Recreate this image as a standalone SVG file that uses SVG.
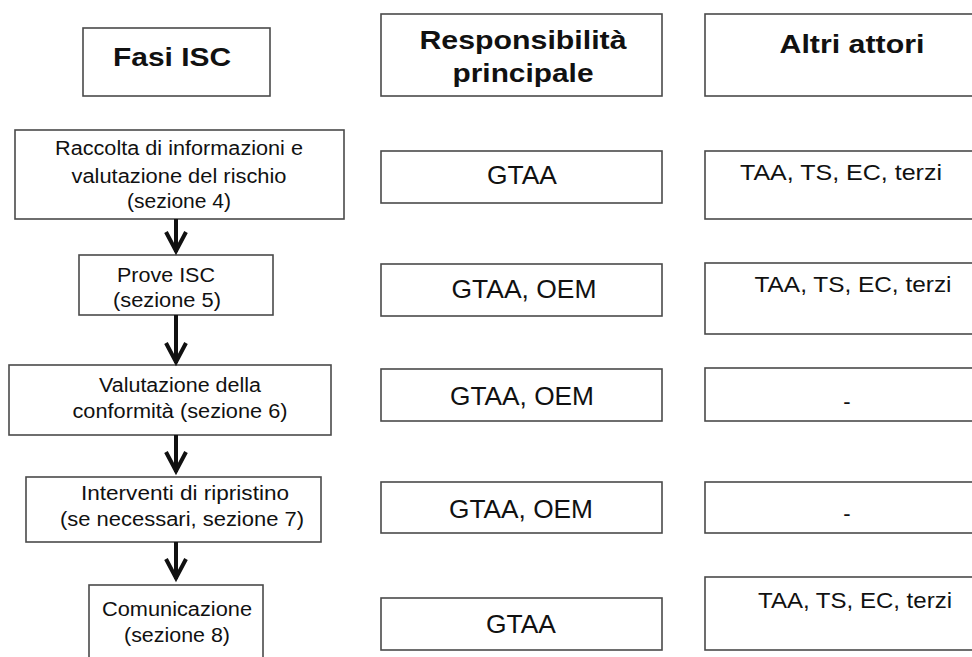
<svg xmlns="http://www.w3.org/2000/svg" width="972" height="657" viewBox="0 0 972 657">
<style>
.box{fill:#fff;stroke:#4a4a4a;stroke-width:1.6}
text{font-family:"Liberation Sans",Arial,sans-serif;fill:#111;text-anchor:middle}
.h{font-weight:bold;font-size:26px}
.l{font-size:19.5px}
.m{font-size:25px}
.r{font-size:22px}
.arrow{stroke:#111;stroke-width:4;fill:none}
</style>
<defs>
<marker id="chev" markerUnits="userSpaceOnUse" viewBox="-24 -13 28 26" refX="0" refY="0" markerWidth="28" markerHeight="26" orient="auto" overflow="visible">
<path d="M-20,-10 L-1,0 L-20,10" fill="none" stroke="#111" stroke-width="4"/>
</marker>
</defs>
<rect width="972" height="657" fill="#fff"/>

<g id="hdr-fasi"><rect class="box" x="83" y="28" width="187" height="68"/><text class="h" x="172" y="66" textLength="118" lengthAdjust="spacingAndGlyphs">Fasi ISC</text></g>
<g id="hdr-resp"><rect class="box" x="381" y="14" width="281" height="82"/><text class="h" x="523" y="49" textLength="207" lengthAdjust="spacingAndGlyphs">Responsibilità</text><text class="h" x="523" y="82" textLength="141" lengthAdjust="spacingAndGlyphs">principale</text></g>
<g id="hdr-altri"><rect class="box" x="705" y="14" width="300" height="82"/><text class="h" x="852" y="53" textLength="145" lengthAdjust="spacingAndGlyphs">Altri attori</text></g>

<g id="fase1"><rect class="box" x="15" y="130" width="329" height="89"/>
<text class="l" x="179" y="155" textLength="248" lengthAdjust="spacingAndGlyphs">Raccolta di informazioni e</text>
<text class="l" x="179" y="183" textLength="215" lengthAdjust="spacingAndGlyphs">valutazione del rischio</text>
<text class="l" x="179" y="208" textLength="104" lengthAdjust="spacingAndGlyphs">(sezione 4)</text></g>
<g id="fase2"><rect class="box" x="79" y="255" width="194" height="60"/>
<text class="l" x="166" y="282" textLength="98" lengthAdjust="spacingAndGlyphs">Prove ISC</text>
<text class="l" x="167" y="307" textLength="108" lengthAdjust="spacingAndGlyphs">(sezione 5)</text></g>
<g id="fase3"><rect class="box" x="9" y="365" width="322" height="70"/>
<text class="l" x="180" y="392" textLength="162" lengthAdjust="spacingAndGlyphs">Valutazione della</text>
<text class="l" x="180" y="418" textLength="215" lengthAdjust="spacingAndGlyphs">conformità (sezione 6)</text></g>
<g id="fase4"><rect class="box" x="26" y="477" width="295" height="65"/>
<text class="l" x="185" y="500" textLength="208" lengthAdjust="spacingAndGlyphs">Interventi di ripristino</text>
<text class="l" x="182" y="526" textLength="244" lengthAdjust="spacingAndGlyphs">(se necessari, sezione 7)</text></g>
<g id="fase5"><rect class="box" x="89" y="585" width="174" height="85"/>
<text class="l" x="177" y="616" textLength="150" lengthAdjust="spacingAndGlyphs">Comunicazione</text>
<text class="l" x="177" y="642" textLength="106" lengthAdjust="spacingAndGlyphs">(sezione 8)</text></g>

<g id="resp1"><rect class="box" x="381" y="151" width="281" height="52"/><text class="m" x="522" y="184" textLength="70" lengthAdjust="spacingAndGlyphs">GTAA</text></g>
<g id="resp2"><rect class="box" x="381" y="264" width="281" height="52"/><text class="m" x="524" y="298" textLength="145" lengthAdjust="spacingAndGlyphs">GTAA, OEM</text></g>
<g id="resp3"><rect class="box" x="381" y="369" width="281" height="52"/><text class="m" x="522" y="405" textLength="144" lengthAdjust="spacingAndGlyphs">GTAA, OEM</text></g>
<g id="resp4"><rect class="box" x="381" y="482" width="281" height="51"/><text class="m" x="521" y="518" textLength="144" lengthAdjust="spacingAndGlyphs">GTAA, OEM</text></g>
<g id="resp5"><rect class="box" x="381" y="598" width="281" height="52"/><text class="m" x="521" y="633" textLength="70" lengthAdjust="spacingAndGlyphs">GTAA</text></g>

<g id="altri1"><rect class="box" x="705" y="151" width="300" height="68"/><text class="r" x="841" y="180" textLength="202" lengthAdjust="spacingAndGlyphs">TAA, TS, EC, terzi</text></g>
<g id="altri2"><rect class="box" x="705" y="263" width="300" height="71"/><text class="r" x="853" y="292" textLength="197" lengthAdjust="spacingAndGlyphs">TAA, TS, EC, terzi</text></g>
<g id="altri3"><rect class="box" x="705" y="368" width="300" height="53"/><text class="r" x="847" y="409">-</text></g>
<g id="altri4"><rect class="box" x="705" y="482" width="300" height="51"/><text class="r" x="847" y="521">-</text></g>
<g id="altri5"><rect class="box" x="705" y="577" width="300" height="73"/><text class="r" x="855" y="608" textLength="194" lengthAdjust="spacingAndGlyphs">TAA, TS, EC, terzi</text></g>

<g id="connectors">
<path class="arrow" d="M176,219 L176,252" marker-end="url(#chev)"/>
<path class="arrow" d="M176,315 L176,363" marker-end="url(#chev)"/>
<path class="arrow" d="M176,435 L176,472" marker-end="url(#chev)"/>
<path class="arrow" d="M176,542 L176,579" marker-end="url(#chev)"/>
</g>
</svg>
